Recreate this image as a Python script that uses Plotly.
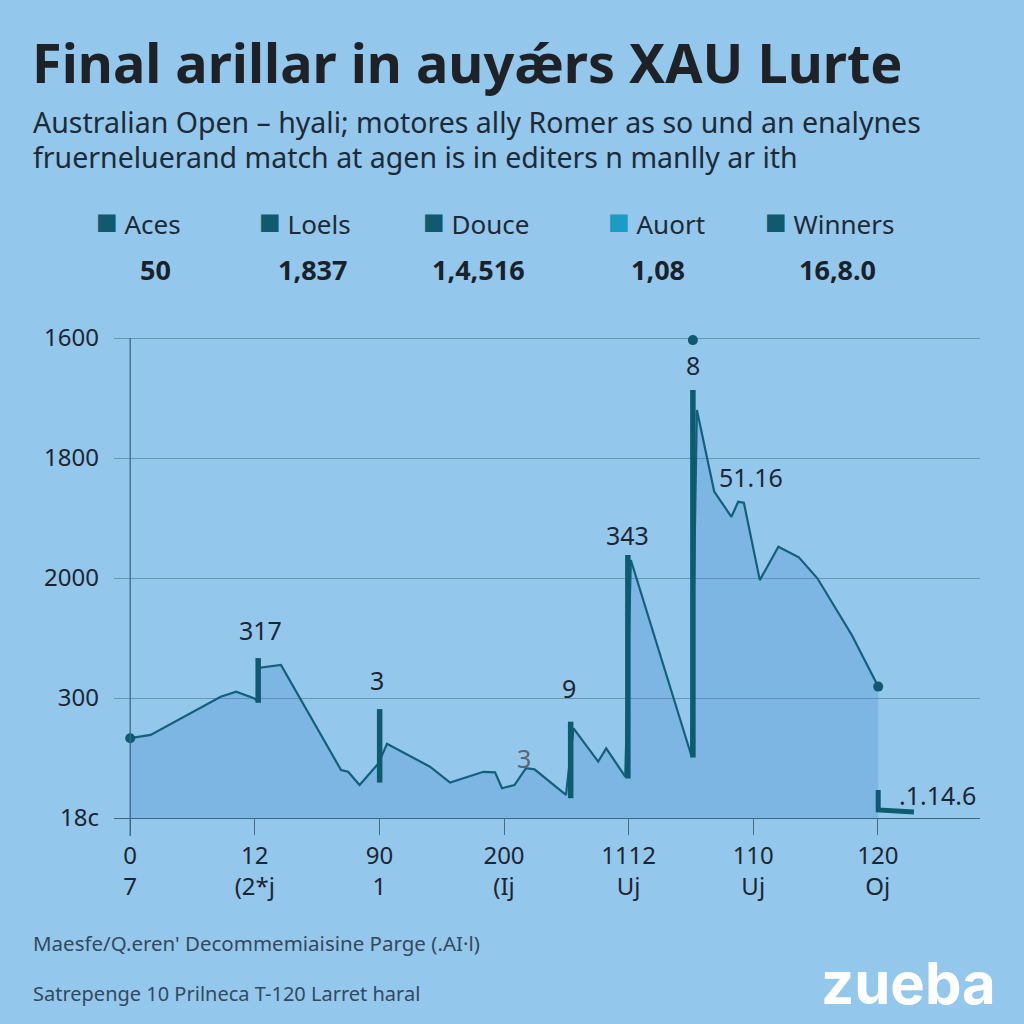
import plotly.graph_objects as go

# ---------------- data ----------------
title_text = "Final arillar in auyǽrs XAU Lurte"
subtitle_1 = "Australian Open – hyali; motores ally Romer as so und an enalynes"
subtitle_2 = "fruerneluerand match at agen is in editers n manlly ar ith"

legend_names = ["Aces", "Loels", "Douce", "Auort", "Winners"]
legend_values = ["50", "1,837", "1,4,516", "1,08", "16,8.0"]
legend_colors = ["#0f5a6d", "#0f5a6d", "#0f5a6d", "#1a9cc4", "#0f5a6d"]

y_tickvals = [0, 400, 800, 1200, 1600]
y_ticktext = ["18c", "300", "2000", "1800", "1600"]
x_tickvals = [0, 1, 2, 3, 4, 5, 6]
x_ticktext = ["0<br>7", "12<br>(2*j", "90<br>1", "200<br>(Ij", "1112<br>Uj", "110<br>Uj", "120<br>Oj"]

line_x = [0.0, 0.164, 0.726, 0.850, 0.993, 1.027, 1.027, 1.21, 1.692, 1.749, 1.841, 1.992,
          2.061, 2.406, 2.567, 2.835, 2.928, 2.984, 3.084, 3.176, 3.245, 3.497, 3.558,
          3.756, 3.820, 3.973, 4.018, 4.502, 4.548, 4.687, 4.825, 4.879, 4.925, 5.053,
          5.202, 5.366, 5.515, 5.791, 6.003]
line_y = [266, 277, 404, 421, 399, 390, 500, 510, 160, 154, 110, 182,
          247, 171, 118, 154, 152, 99, 110, 166, 162, 77, 299,
          188, 232, 138, 860, 210, 1360, 1088, 1004, 1054, 1051, 793,
          904, 869, 799, 610, 438]

spike_x = [1.027, 2.002, 3.535, 3.994, 4.516]
spike_low = [384, 118, 66, 132, 202]
spike_high = [533, 363, 321, 877, 1427]

peak_x = [4.516]
peak_y = [1593]

tail_x = [6.003, 6.003, 6.29]
tail_y = [93, 27, 20]

label_text = ["317", "3", "3", "9", "343", "8", "51.16", ".1.14.6"]
label_x = [1.048, 1.981, 3.157, 3.52, 3.994, 4.516, 4.986, 6.48]
label_y = [627, 460, 200, 433, 943, 1510, 1138, 77]
label_colors = ["#1c2733", "#1c2733", "#5b6670", "#1c2733", "#1c2733", "#1c2733", "#1c2733", "#1c2733"]

footer_1 = "Maesfe/Q.eren' Decommemiaisine Parge (.AI·l)"
footer_2 = "Satrepenge 10 Prilneca T-120 Larret haral"
logo_text = "zueba"

# ---------------- layout constants ----------------
W, H = 1024, 1024
BG = "#94c7ec"
LINE = "#14607a"
FONT = "Noto Sans"

plot_l, plot_r, plot_t, plot_b = 114, 980, 308, 818


def px(x):
    return (x - plot_l) / (plot_r - plot_l)


def py(y):
    return (plot_b - y) / (plot_b - plot_t)


fig = go.Figure()

# filled line
fig.add_trace(go.Scatter(
    x=line_x, y=line_y, mode="lines", fill="tozeroy",
    fillcolor="rgba(70,140,200,0.28)",
    line=dict(color=LINE, width=2.2), hoverinfo="skip", showlegend=False,
))

# thick spikes
sx, sy = [], []
for x, lo, hi in zip(spike_x, spike_low, spike_high):
    sx += [x, x, None]
    sy += [lo, hi, None]
fig.add_trace(go.Scatter(x=sx, y=sy, mode="lines", line=dict(color="#0e5a6f", width=5.5),
                         hoverinfo="skip", showlegend=False))

# tail L
fig.add_trace(go.Scatter(x=tail_x, y=tail_y, mode="lines", line=dict(color="#0e5a6f", width=5),
                         hoverinfo="skip", showlegend=False))

# dots
fig.add_trace(go.Scatter(
    x=[line_x[0], line_x[-1]] + peak_x, y=[line_y[0], line_y[-1]] + peak_y,
    mode="markers", marker=dict(color="#0e5a6f", size=10), cliponaxis=False,
    hoverinfo="skip", showlegend=False,
))

# value labels
for t, x, y, c in zip(label_text, label_x, label_y, label_colors):
    fig.add_annotation(x=x, y=y, xref="x", yref="y", text=t, showarrow=False,
                       font=dict(family=FONT, size=25, color=c))

# y axis line
fig.add_shape(type="line", xref="x", yref="paper", x0=0, x1=0, y0=py(836), y1=py(338),
              line=dict(color="#3d6684", width=1.3))

# title / subtitle
fig.add_annotation(xref="paper", yref="paper", x=px(30), y=py(62), xanchor="left", yanchor="middle",
                   text="<b>" + title_text + "</b>", showarrow=False,
                   font=dict(family=FONT, size=54, color="#1e2227"))
fig.add_annotation(xref="paper", yref="paper", x=px(31), y=py(122), xanchor="left", yanchor="middle",
                   text=subtitle_1, showarrow=False, font=dict(family=FONT, size=28.5, color="#1e2a35"))
fig.add_annotation(xref="paper", yref="paper", x=px(31), y=py(157), xanchor="left", yanchor="middle",
                   text=subtitle_2, showarrow=False, font=dict(family=FONT, size=28.5, color="#1e2a35"))

# legend row
leg_x = [94, 257, 421, 606, 763]
val_x = [155, 312, 478, 658, 837]
for name, val, col, lx, vx in zip(legend_names, legend_values, legend_colors, leg_x, val_x):
    fig.add_annotation(xref="paper", yref="paper", x=px(lx), y=py(221), xanchor="left", yanchor="middle",
                       text=f"<span style='color:{col};font-size:36px'>■</span> {name}", showarrow=False,
                       font=dict(family=FONT, size=26, color="#1e2a35"))
    fig.add_annotation(xref="paper", yref="paper", x=px(vx), y=py(269), xanchor="center", yanchor="middle",
                       text=f"<b>{val}</b>", showarrow=False,
                       font=dict(family=FONT, size=27, color="#1a2129"))

# footer
fig.add_annotation(xref="paper", yref="paper", x=px(31), y=py(943), xanchor="left", yanchor="middle",
                   text=footer_1, showarrow=False, font=dict(family=FONT, size=20.5, color="#34495c"))
fig.add_annotation(xref="paper", yref="paper", x=px(31), y=py(993), xanchor="left", yanchor="middle",
                   text=footer_2, showarrow=False, font=dict(family=FONT, size=20, color="#34495c"))
fig.add_annotation(xref="paper", yref="paper", x=px(998), y=py(983), xanchor="right", yanchor="middle",
                   text="<b>" + logo_text + "</b>", showarrow=False,
                   font=dict(family="Inter", size=58, color="#ffffff"))

fig.update_layout(
    width=W, height=H,
    margin=dict(l=plot_l, r=W - plot_r, t=plot_t, b=H - plot_b),
    paper_bgcolor=BG, plot_bgcolor=BG,
    xaxis=dict(range=[-0.13, 6.82], tickvals=x_tickvals, ticktext=x_ticktext,
               showgrid=False, zeroline=False, showline=True, linecolor="#3d6684", linewidth=1.3,
               ticks="outside", ticklen=16, tickcolor="#4a6a82", tickwidth=1.2,
               tickfont=dict(family=FONT, size=24, color="#1d2630")),
    yaxis=dict(range=[0, 1700], tickvals=y_tickvals, ticktext=y_ticktext,
               showgrid=True, gridcolor="rgba(70,110,140,0.55)", gridwidth=1.2,
               zeroline=False, showline=False, ticks="",
               tickfont=dict(family=FONT, size=24, color="#1d2630"), ticklabelstandoff=14),
    showlegend=False,
)

fig.write_html("out.html", config={"displayModeBar": False},
               post_script="document.body.style.margin='0';document.body.style.background='%s';" % BG)
